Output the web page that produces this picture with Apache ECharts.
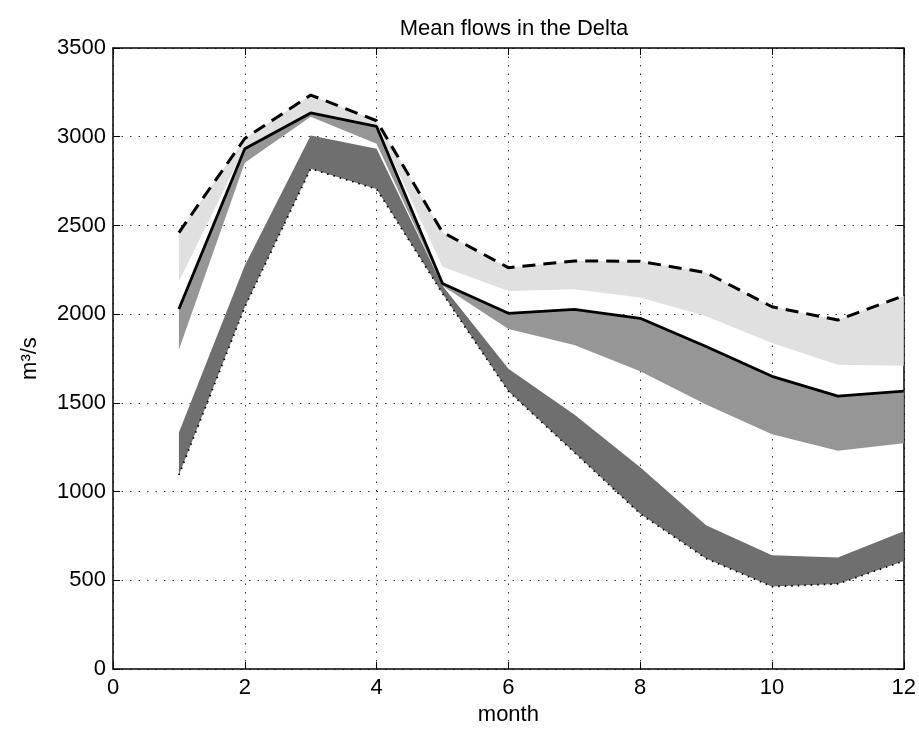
<!DOCTYPE html>
<html>
<head>
<meta charset="utf-8">
<script src="https://cdn.jsdelivr.net/npm/echarts@6/dist/echarts.min.js"></script>
<style>
html, body { margin: 0; padding: 0; background: #fff; }
#chart { width: 919px; height: 731px; }
</style>
</head>
<body>
<div id="chart"></div>
<script>
// months on the x axis
const months = [1, 2, 3, 4, 5, 6, 7, 8, 9, 10, 11, 12];
// dashed line = top of the light band
const dashedTop = [2460, 2990, 3235, 3090, 2462, 2262, 2300, 2298, 2234, 2042, 1967, 2104];
const lightLow = [2184, 2940, 3140, 3060, 2268, 2130, 2141, 2094, 1988, 1837, 1715, 1710];
// solid line = top of the mid gray band
const solidMid = [2029, 2932, 3134, 3058, 2173, 2005, 2027, 1977, 1818, 1650, 1538, 1566];
const midLow = [1799, 2854, 3112, 2960, 2160, 1917, 1827, 1678, 1491, 1323, 1230, 1273];
// dark band, dotted line on its lower edge
const darkTop = [1333, 2275, 3007, 2932, 2160, 1693, 1435, 1137, 810, 642, 629, 777];
const dottedLow = [1094, 2040, 2820, 2705, 2117, 1566, 1221, 875, 623, 465, 480, 609];

const xTicks = [0, 2, 4, 6, 8, 10, 12];
const yTicks = [0, 500, 1000, 1500, 2000, 2500, 3000, 3500];

const FONT = 'Liberation Sans, Arial, sans-serif';
const FS = 22;

function pts(arr) {
  return months.map((m, i) => [m, arr[i]]);
}

// filled band between lo and hi, one polygon built from axis coords
function band(name, lo, hi, color) {
  return {
    name: name, type: 'custom', silent: true, z: 2,
    data: months.map((m, i) => [m, lo[i], hi[i]]),
    encode: { x: 0, y: [1, 2] },
    renderItem: function (params, api) {
      if (params.dataIndex !== 0) return;
      const top = months.map((m, i) => api.coord([m, hi[i]]));
      const bot = months.map((m, i) => api.coord([m, lo[i]])).reverse();
      return {
        type: 'polygon',
        shape: { points: top.concat(bot) },
        style: { fill: color, stroke: null }
      };
    }
  };
}

const chart = echarts.init(document.getElementById('chart'));

const gridDots = { show: true, lineStyle: { color: '#333', type: [1.5, 7], width: 1 } };
const tickIn = { show: true, inside: true, length: 7, lineStyle: { color: '#000' } };
const frame = { show: true, onZero: false, lineStyle: { color: '#000', width: 1.5 } };

const option = {
  animation: false,
  backgroundColor: '#fff',
  title: {
    text: 'Mean flows in the Delta',
    left: 509, top: 13, textAlign: 'center',
    textStyle: { fontFamily: FONT, fontSize: 22, fontWeight: 'normal', color: '#000' }
  },
  grid: { left: 113, right: 14, top: 48, bottom: 58 },
  xAxis: [
    {
      type: 'value', min: 0, max: 12, interval: 2,
      name: 'month', nameLocation: 'middle', nameGap: 34,
      nameTextStyle: { fontFamily: FONT, fontSize: FS, color: '#000' },
      axisLine: frame, axisTick: tickIn,
      axisLabel: { fontFamily: FONT, fontSize: FS, color: '#000', margin: 8,
        formatter: v => xTicks.includes(v) ? String(v) : '' },
      splitLine: gridDots
    },
    {
      type: 'value', min: 0, max: 12, interval: 2, position: 'top',
      axisLine: frame, axisTick: tickIn,
      axisLabel: { show: false }, splitLine: { show: false }
    }
  ],
  yAxis: [
    {
      type: 'value', min: 0, max: 3500, interval: 500,
      name: 'm³/s', nameLocation: 'middle', nameGap: 72,
      nameTextStyle: { fontFamily: FONT, fontSize: FS, color: '#000' },
      axisLine: frame, axisTick: tickIn,
      axisLabel: { fontFamily: FONT, fontSize: FS, color: '#000', margin: 7,
        formatter: v => yTicks.includes(v) ? String(v) : '' },
      splitLine: gridDots
    },
    {
      type: 'value', min: 0, max: 3500, interval: 500, position: 'right',
      axisLine: frame, axisTick: tickIn,
      axisLabel: { show: false }, splitLine: { show: false }
    }
  ],
  series: [
    band('light', lightLow, dashedTop, '#e0e0e0'),
    band('mid', midLow, solidMid, '#969696'),
    band('dark', dottedLow, darkTop, '#6f6f6f'),
    {
      name: 'upper', type: 'line', data: pts(dashedTop), symbol: 'none', z: 5,
      lineStyle: { color: '#000', width: 3, type: [13, 8] }
    },
    {
      name: 'mean', type: 'line', data: pts(solidMid), symbol: 'none', z: 5,
      lineStyle: { color: '#000', width: 2.8 }
    },
    {
      name: 'lower', type: 'line', data: pts(dottedLow), symbol: 'none', z: 5,
      lineStyle: { color: '#000', width: 1.8, type: [1.5, 5] }
    }
  ]
};

chart.setOption(option);
</script>
</body>
</html>
